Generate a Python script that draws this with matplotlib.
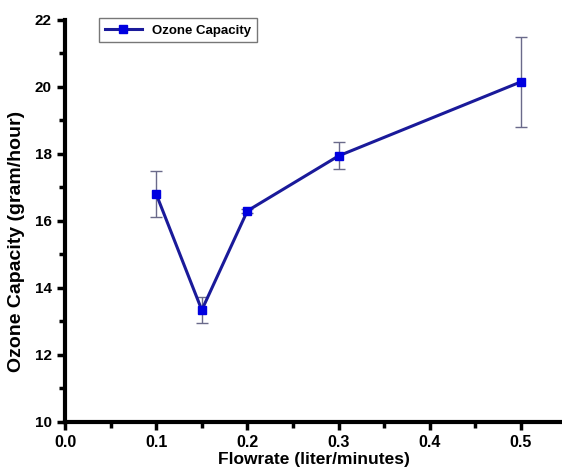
import matplotlib
matplotlib.use("Agg")
import matplotlib.pyplot as plt
from matplotlib.ticker import MultipleLocator

flowrate = [0.1, 0.15, 0.2, 0.3, 0.5]
capacity = [16.8, 13.34, 16.3, 17.94, 20.15]
err = [0.68, 0.4, 0.05, 0.4, 1.35]

plt.rcParams['font.family'] = ['Liberation Sans', 'DejaVu Sans']
plt.rcParams['font.weight'] = 'bold'

fig = plt.figure(figsize=(5.62, 4.72), dpi=100)
ax = fig.add_axes([0.1157, 0.106, 0.8843, 0.852])

ax.errorbar(flowrate, capacity, yerr=err, fmt='none', ecolor='#6a6a8a',
            elinewidth=1.0, capsize=4, capthick=1.0, zorder=2)
ax.plot(flowrate, capacity, color='#1a1a9a', lw=2.2, marker='s', ms=6,
        mfc='#0000e0', mec='#0000e0', label='Ozone Capacity', zorder=3)

ax.set_xlim(0, 0.545)
ax.set_ylim(10, 22)
ax.xaxis.set_major_locator(MultipleLocator(0.1))
ax.xaxis.set_minor_locator(MultipleLocator(0.05))
ax.yaxis.set_major_locator(MultipleLocator(2))
ax.yaxis.set_minor_locator(MultipleLocator(1))
ax.xaxis.set_major_formatter(plt.FuncFormatter(lambda v, p: f"{v:.1f}"))

for s in ['top', 'right']:
    ax.spines[s].set_visible(False)
for s in ['left', 'bottom']:
    ax.spines[s].set_linewidth(3)
ax.tick_params(which='major', direction='out', length=6, width=2.5, labelsize=11.5)
ax.tick_params(axis='y', which='major', labelsize=11)
ax.tick_params(which='minor', direction='out', length=4, width=2.5)

ax.set_xlabel('Flowrate (liter/minutes)', fontsize=12.5, fontweight='bold', labelpad=1)
ax.set_ylabel('Ozone Capacity (gram/hour)', fontsize=14, fontweight='bold')
ax.yaxis.set_label_coords(-0.08, 0.45)

leg = ax.legend(loc='upper left', bbox_to_anchor=(0.055, 1.02), fontsize=9.5,
                frameon=True, fancybox=False, edgecolor='#555555',
                handlelength=2.8, borderpad=0.45)
leg.get_frame().set_linewidth(1.0)
for t in leg.get_texts():
    t.set_fontweight('bold')

fig.savefig('out.png', dpi=100)
